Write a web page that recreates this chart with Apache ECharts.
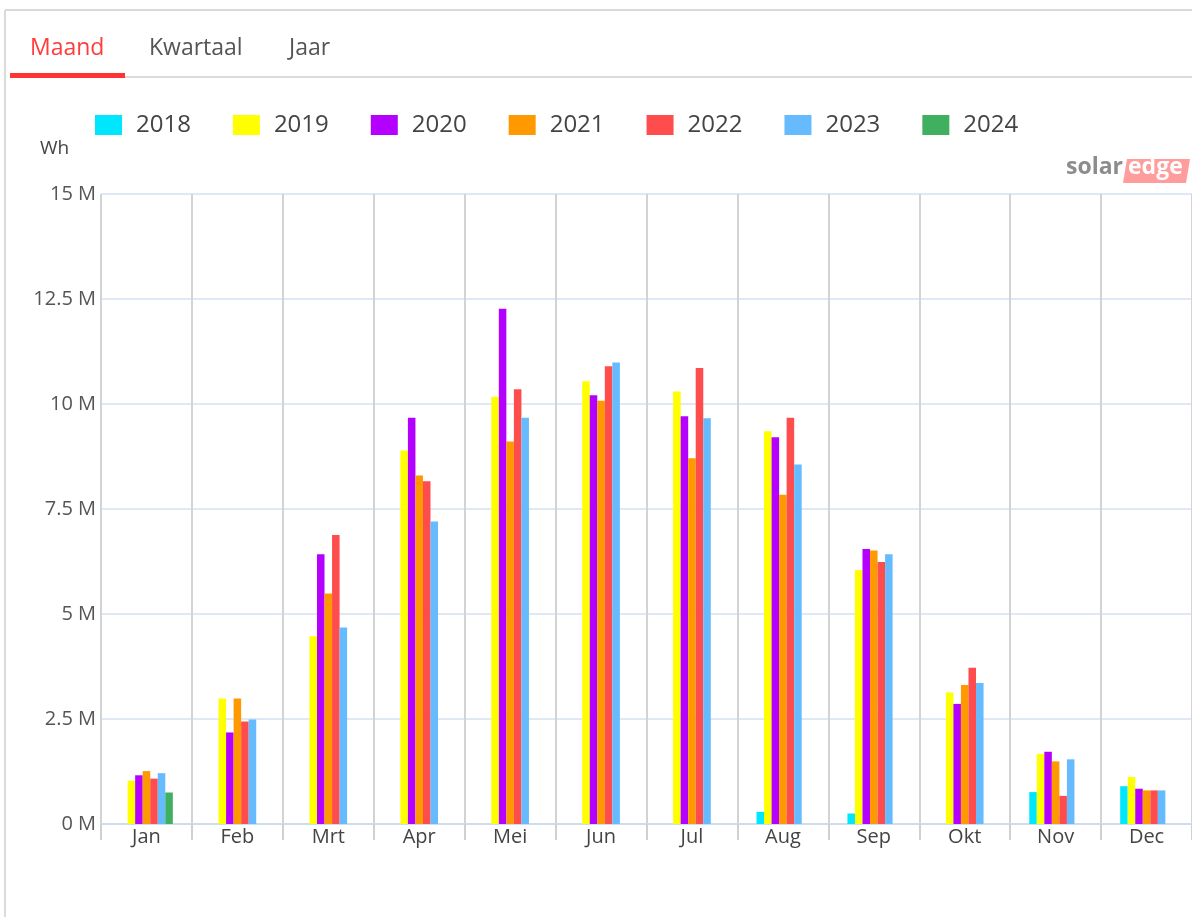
<!DOCTYPE html>
<html>
<head>
<meta charset="utf-8">
<script src="https://cdn.jsdelivr.net/npm/echarts@6/dist/echarts.min.js"></script>
<style>
html,body{margin:0;padding:0;background:#fff;}
#c{width:1192px;height:917px;}
</style>
</head>
<body>
<div id="c"></div>
<script>
const months = ['Jan','Feb','Mrt','Apr','Mei','Jun','Jul','Aug','Sep','Okt','Nov','Dec'];
const years = ['2018','2019','2020','2021','2022','2023','2024'];
const yTicks = [0, 2500000, 5000000, 7500000, 10000000, 12500000, 15000000];
const tabs = ['Maand','Kwartaal','Jaar'];
const unitLabel = 'Wh';

const y2018 = [null, null, null, null, null, null, null, 290000, 250000, null, 760000, 900000];
const y2019 = [1030000, 2990000, 4470000, 8890000, 10170000, 10540000, 10300000, 9350000, 6050000, 3130000, 1670000, 1120000];
const y2020 = [1160000, 2180000, 6420000, 9670000, 12270000, 10210000, 9710000, 9210000, 6550000, 2860000, 1720000, 840000];
const y2021 = [1260000, 2990000, 5490000, 8300000, 9110000, 10080000, 8710000, 7840000, 6510000, 3310000, 1490000, 800000];
const y2022 = [1080000, 2440000, 6880000, 8160000, 10350000, 10900000, 10860000, 9670000, 6240000, 3720000, 670000, 800000];
const y2023 = [1210000, 2490000, 4680000, 7200000, 9670000, 10990000, 9660000, 8560000, 6420000, 3360000, 1540000, 800000];
const y2024 = [750000, null, null, null, null, null, null, null, null, null, null, null];

const seriesData = [y2018, y2019, y2020, y2021, y2022, y2023, y2024];
const colors = ['#00e6ff', '#ffff00', '#b300ff', '#ff9900', '#ff4d4d', '#66bbff', '#40b060'];

const FONT = 'Open Sans';
const chart = echarts.init(document.getElementById('c'), null, {renderer: 'canvas'});

const option = {
  backgroundColor: '#ffffff',
  animation: false,
  color: colors,
  textStyle: {fontFamily: FONT},
  legend: {
    left: 90,
    top: 108,
    itemWidth: 27,
    itemHeight: 20,
    itemGap: 42,
    icon: 'rect',
    data: years,
    textStyle: {fontFamily: FONT, fontSize: 24, color: '#444', width: 57, padding: [0, 0, 0, 9]}
  },
  grid: {left: 101, right: 0, top: 194, bottom: 93, containLabel: false},
  xAxis: {
    type: 'category',
    data: months,
    axisLine: {show: true, lineStyle: {color: '#cfdcee', width: 2}},
    axisTick: {show: true, length: 16, lineStyle: {color: '#d0d0d0', width: 2}},
    axisLabel: {fontFamily: FONT, fontSize: 20, color: '#444', margin: 3},
    splitLine: {show: true, lineStyle: {color: '#d3d3d3', width: 2}}
  },
  yAxis: {
    type: 'value',
    min: yTicks[0],
    max: yTicks[yTicks.length - 1],
    interval: yTicks[1] - yTicks[0],
    axisLine: {show: false},
    axisTick: {show: false},
    axisLabel: {fontFamily: FONT, fontSize: 20, color: '#555', margin: 5,
      formatter: v => (v / 1000000) + ' M'},
    splitLine: {show: true, lineStyle: {color: '#dfe9f5', width: 2}}
  },
  series: years.map((y, i) => ({
    name: y,
    type: 'bar',
    data: seriesData[i],
    barGap: '0%',
    barCategoryGap: '42%',
    itemStyle: {color: colors[i]}
  })),
  graphic: [
    {type: 'line', shape: {x1: 5, y1: 10, x2: 1192, y2: 10}, style: {stroke: '#dadada', lineWidth: 2}},
    {type: 'line', shape: {x1: 5, y1: 10, x2: 5, y2: 917}, style: {stroke: '#dadada', lineWidth: 2}},
    {type: 'line', shape: {x1: 10, y1: 77, x2: 1192, y2: 77}, style: {stroke: '#dadada', lineWidth: 2}},
    {type: 'rect', shape: {x: 10, y: 73, width: 115, height: 5}, style: {fill: '#ff3333'}},
    {type: 'text', left: 30, top: 37, style: {text: tabs[0], fontFamily: FONT, fontSize: 23, fill: '#ff3b3b'}},
    {type: 'text', left: 149, top: 37, style: {text: tabs[1], fontFamily: FONT, fontSize: 23, fill: '#555'}},
    {type: 'text', left: 289, top: 37, style: {text: tabs[2], fontFamily: FONT, fontSize: 23, fill: '#555'}},
    {type: 'text', left: 40, top: 139, style: {text: unitLabel, fontFamily: FONT, fontSize: 19, fill: '#444'}},
    {type: 'polygon', shape: {points: [[1127, 159], [1190, 159], [1186, 183], [1123, 183]]}, style: {fill: '#ff9c9c'}},
    {type: 'text', left: 1066, top: 156, style: {text: 'solar', fontFamily: FONT, fontSize: 23, fontWeight: 'bold', fill: '#8c8c8c'}},
    {type: 'text', left: 1128, top: 156, style: {text: 'edge', fontFamily: FONT, fontSize: 23, fontWeight: 'bold', fill: '#ffffff'}}
  ]
};
chart.setOption(option);
</script>
</body>
</html>
